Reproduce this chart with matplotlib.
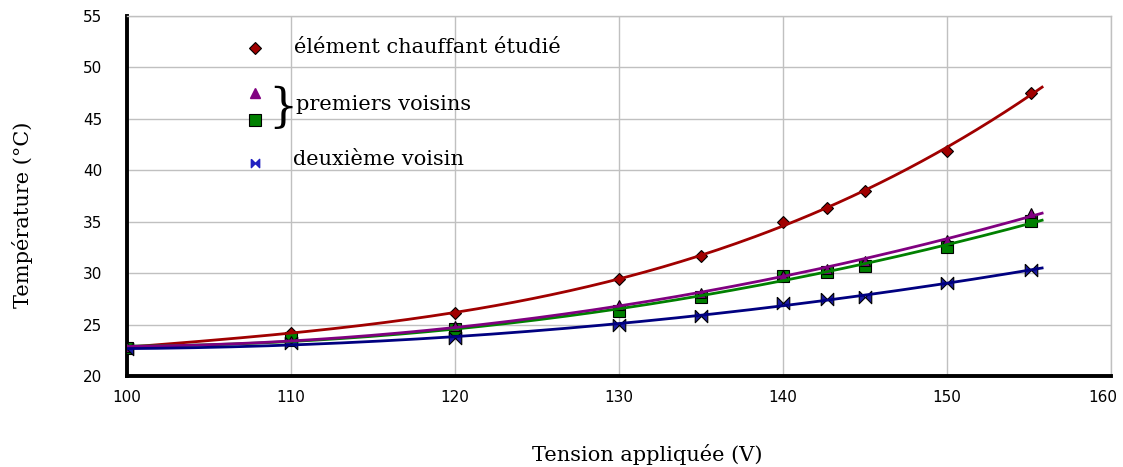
import numpy as np
import matplotlib.pyplot as plt
import matplotlib.transforms as mtransforms
from matplotlib.path import Path

# Data
tension = [100, 110, 120, 130, 135, 140, 142.7, 145, 150, 155.1]
t_element = [22.8, 24.2, 26.1, 29.4, 31.7, 35.0, 36.3, 38.0, 41.9, 47.5]
t_voisin_a = [22.8, 23.4, 24.9, 26.9, 28.1, 29.8, 30.4, 31.2, 33.2, 35.8]
t_voisin_b = [22.7, 23.7, 24.6, 26.3, 27.7, 29.7, 30.1, 30.7, 32.5, 35.1]
t_deuxieme = [22.6, 23.2, 23.7, 25.0, 25.8, 27.1, 27.5, 27.7, 29.0, 30.3]

xticks = [100, 110, 120, 130, 140, 150, 160]
yticks = [20, 25, 30, 35, 40, 45, 50, 55]

bowtie = Path([(-1, 1), (0, 0), (1, 1), (1, -1), (0, 0), (-1, -1), (-1, 1)])

fig = plt.figure(figsize=(11.23, 4.67), dpi=100)
ax = fig.add_axes([0.1131, 0.1949, 0.8762, 0.7709])

series = [
    (t_element, '#a00000', '#a00000', 'D', 6.5, 3),
    (t_voisin_b, '#008000', '#008000', 's', 8, 2),
    (t_voisin_a, '#800080', '#800080', '^', 7, 2),
    (t_deuxieme, '#000080', '#1a1aa0', bowtie, 9, 2),
]

xs = np.linspace(99.6, 155.8, 200)
x = np.array(tension)
for vals, lc, mc, mk, ms, deg in series:
    coef = np.polyfit(x, vals, deg)
    ax.plot(x, vals, linestyle='none', marker=mk, markersize=ms,
            markerfacecolor=mc, markeredgecolor='black', markeredgewidth=0.8,
            zorder=3)
    ax.plot(xs, np.polyval(coef, xs), color=lc, linewidth=2, zorder=4)

ax.set_xlim(100, 160)
ax.set_ylim(20, 55)
ax.set_xticks(xticks)
ax.set_yticks(yticks)
ax.tick_params(length=0, labelsize=11)
ax.tick_params(axis='y', pad=18)
ax.tick_params(axis='x', pad=10)
ax.grid(True, color='#c0c0c0', linewidth=1)
ax.set_axisbelow(True)
for s in ['left', 'bottom']:
    ax.spines[s].set_linewidth(2.8)
    ax.spines[s].set_color('black')
for s in ['top', 'right']:
    ax.spines[s].set_linewidth(1)
    ax.spines[s].set_color('#c0c0c0')

# keep the last x label inside the figure
last = ax.get_xticklabels()[-1]
last.set_transform(last.get_transform() +
                   mtransforms.ScaledTranslation(-8 / 100, 0, fig.dpi_scale_trans))

serif = 'DejaVu Serif'
fs = 15
fig.text(0.576, 0.005, 'Tension appliquée (V)', family=serif, fontsize=fs,
         ha='center', va='bottom')
fig.text(0.02, 0.54, 'Température (°C)', family=serif, fontsize=fs,
         rotation=90, ha='center', va='center')

# hand-drawn legend
ax.plot([107.8], [51.9], linestyle='none', marker='D', markersize=6.5,
        markerfacecolor='#a00000', markeredgecolor='black', markeredgewidth=0.8)
ax.plot([107.8], [47.5], linestyle='none', marker='^', markersize=7,
        markerfacecolor='#800080', markeredgecolor='#800080')
ax.plot([107.8], [44.9], linestyle='none', marker='s', markersize=8,
        markerfacecolor='#008000', markeredgecolor='black', markeredgewidth=0.8)
ax.plot([107.8], [40.7], linestyle='none', marker=bowtie, markersize=6,
        markerfacecolor='#2020c0', markeredgecolor='#2020c0')
ax.text(110.2, 51.9, 'élément chauffant étudié', family=serif, fontsize=fs,
        va='center', ha='left')
ax.text(108.6, 46.0, '}', family=serif, fontsize=33, va='center', ha='left')
ax.text(110.3, 46.4, 'premiers voisins', family=serif, fontsize=fs,
        va='center', ha='left')
ax.text(110.1, 41.0, 'deuxième voisin', family=serif, fontsize=fs,
        va='center', ha='left')

fig.savefig('out.png', dpi=100)
